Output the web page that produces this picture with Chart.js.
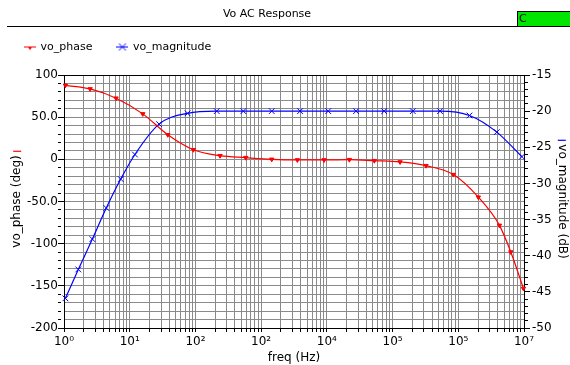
<!DOCTYPE html>
<html>
<head>
<meta charset="utf-8">
<script src="https://cdn.jsdelivr.net/npm/chart.js@4"></script>
<style>
  html, body { margin: 0; padding: 0; background: #fff; }
</style>
</head>
<body>
<canvas id="acChart" width="570" height="365"></canvas>
<script>
// values (markers only, the line is smoothed between them)
var phaseFreq = [1.05, 2.5, 6.2, 15.8, 38, 93, 237, 583, 1450, 3560, 9070, 22000, 52800, 130000, 323000, 842000, 2020000, 4230000, 6300000, 9800000];
var phaseDeg = [87.8, 83.5, 72.5, 53.9, 29.1, 11.4, 4.3, 2.0, 0.0, -0.7, -0.7, -0.4, -1.6, -3.1, -7.5, -18.1, -44.9, -78.3, -109.9, -153.1];
var magFreq = [1.05, 1.65, 2.7, 4.4, 7.3, 12, 28, 76, 211, 536, 1450, 3910, 10500, 27800, 74300, 203000, 528000, 1480000, 3860000, 9300000];
var magDb = [-45.9, -41.9, -37.7, -33.4, -29.4, -26.0, -21.8, -20.3, -20.0, -20.0, -20.0, -20.0, -20.0, -20.0, -20.0, -20.0, -20.0, -20.6, -22.9, -26.3];

// tick labels as printed on the original (including its odd decade labels)
var xTickLabels = ['10⁰', '10¹', '10²', '10²', '10⁴', '10⁵', '10⁵', '10⁷'];
var phaseTicks = [100, 50, 0, -50, -100, -150, -200];
var phaseTickLabels = ['100', '50.0', '0', '-50.0', '-100', '-150', '-200'];
var magTicks = [-15, -20, -25, -30, -35, -40, -45, -50];
var magTickLabels = ['-15', '-20', '-25', '-30', '-35', '-40', '-45', '-50'];

// log grid: 1..9 x 10^e
var xGridValues = [];
for (var e = 0; e < 7; e++) {
  for (var m = 1; m < 10; m++) xGridValues.push(Number((m * Math.pow(10, e)).toPrecision(12)));
}
xGridValues.push(1e7);

var RED = '#ff0000';
var BLUE = '#0000ff';
var GRID = '#8a8a8a';
var FONT = '"DejaVu Sans", sans-serif';

Chart.defaults.font.family = FONT;
Chart.defaults.font.size = 12;
Chart.defaults.color = '#000';

function isDecade(v) {
  var l = Math.log10(v);
  return Math.abs(l - Math.round(l)) < 1e-9;
}

function makeIcon(color, kind) {
  var c = document.createElement('canvas');
  c.width = 12; c.height = 9;
  var g = c.getContext('2d');
  g.strokeStyle = color; g.fillStyle = color; g.lineWidth = 1;
  g.beginPath(); g.moveTo(0, 4.5); g.lineTo(12, 4.5); g.stroke();
  g.beginPath();
  if (kind === 'tri') {
    g.moveTo(3.5, 4); g.lineTo(8.5, 4); g.lineTo(6, 7.5); g.closePath(); g.fill();
  } else {
    g.moveTo(2.5, 1); g.lineTo(9.5, 8); g.moveTo(9.5, 1); g.lineTo(2.5, 8); g.stroke();
  }
  return c;
}
var legendIcons = [makeIcon(RED, 'tri'), makeIcon(BLUE, 'x')];

function xy(xs, ys) {
  return xs.map(function (x, i) { return { x: x, y: ys[i] }; });
}

// window title, rule, green box and the coloured marks by the axis titles
var decor = {
  id: 'decor',
  afterDraw: function (chart) {
    var ctx = chart.ctx;
    var area = chart.chartArea;
    ctx.save();
    ctx.fillStyle = '#000';
    ctx.font = '11px ' + FONT;
    ctx.textAlign = 'center';
    ctx.textBaseline = 'middle';
    ctx.fillText('Vo AC Response', 267, 14);

    ctx.strokeStyle = '#000';
    ctx.lineWidth = 1;
    ctx.beginPath(); ctx.moveTo(7, 26.5); ctx.lineTo(517, 26.5); ctx.stroke();

    ctx.fillStyle = '#00e600';
    ctx.fillRect(517, 11, 53, 16);
    ctx.strokeRect(517.5, 11.5, 60, 15);
    ctx.fillStyle = '#000';
    ctx.textAlign = 'left';
    ctx.fillText('C', 519, 19.5);

    ctx.font = '12px ' + FONT;
    var cy = (area.top + area.bottom) / 2;
    var wl = ctx.measureText('vo_phase (deg)').width;
    var wr = ctx.measureText('vo_magnitude (dB)').width;
    var yl = chart.scales.y, yr = chart.scales.y1;
    var xl = yl.left + 17.2, xr = yr.right - 8.2;
    ctx.lineWidth = 1.2;
    ctx.strokeStyle = RED;
    ctx.beginPath(); ctx.moveTo(xl - 4, cy - wl / 2 - 4); ctx.lineTo(xl + 4, cy - wl / 2 - 4); ctx.stroke();
    ctx.strokeStyle = BLUE;
    ctx.beginPath(); ctx.moveTo(xr - 4, cy - wr / 2 - 4); ctx.lineTo(xr + 4, cy - wr / 2 - 4); ctx.stroke();
    ctx.restore();
  }
};

var ctxAc = document.getElementById('acChart').getContext('2d');
var acChart = new Chart(ctxAc, {
  type: 'line',
  data: {
    datasets: [{
      label: 'vo_phase',
      data: xy(phaseFreq, phaseDeg),
      yAxisID: 'y',
      borderColor: RED,
      backgroundColor: RED,
      borderWidth: 1.2,
      pointStyle: 'triangle',
      rotation: 180,
      pointRadius: 2.5,
      pointBorderWidth: 1,
      cubicInterpolationMode: 'monotone',
      clip: 6
    }, {
      label: 'vo_magnitude',
      data: xy(magFreq, magDb),
      yAxisID: 'y1',
      borderColor: BLUE,
      backgroundColor: BLUE,
      borderWidth: 1.2,
      pointStyle: 'crossRot',
      pointRadius: 4,
      pointBorderWidth: 1,
      cubicInterpolationMode: 'monotone',
      clip: 6
    }]
  },
  options: {
    responsive: false,
    animation: false,
    layout: { padding: { top: 16.5, left: 0, right: 0, bottom: 0 } },
    plugins: {
      title: { display: false },
      subtitle: {
        display: true, text: ' ', weight: 500,
        font: { size: 1, lineHeight: 1 },
        padding: { top: 0, bottom: 11.5 }
      },
      legend: {
        position: 'top',
        align: 'start',
        labels: {
          usePointStyle: true,
          boxWidth: 10,
          padding: 25,
          font: { size: 11 },
          color: '#000',
          generateLabels: function (chart) {
            return chart.data.datasets.map(function (ds, i) {
              return { text: ds.label, pointStyle: legendIcons[i], datasetIndex: i, hidden: false, lineWidth: 0 };
            });
          }
        }
      },
      tooltip: { enabled: false }
    },
    scales: {
      x: {
        type: 'logarithmic',
        min: 1,
        max: 1e7,
        afterFit: function (s) { s.height = 37; },
        afterBuildTicks: function (s) {
          s.ticks = xGridValues.map(function (v) { return { value: v }; });
        },
        ticks: {
          autoSkip: false,
          maxRotation: 0,
          padding: 3,
          callback: function (v) {
            return isDecade(v) ? xTickLabels[Math.round(Math.log10(v))] : '';
          }
        },
        grid: { color: GRID, tickColor: '#000', tickLength: 4 },
        border: { color: '#000' },
        title: { display: true, text: 'freq (Hz)', padding: { top: 0, bottom: 0 } }
      },
      y: {
        type: 'linear',
        position: 'left',
        min: -200,
        max: 100,
        afterFit: function (s) { s.width = 64; },
        ticks: {
          stepSize: 10,
          autoSkip: false,
          padding: 0,
          callback: function (v) {
            var i = phaseTicks.indexOf(Math.round(v));
            return i >= 0 ? phaseTickLabels[i] : '';
          }
        },
        grid: {
          color: function (c) { return c.tick && Math.round(c.tick.value) === 100 ? '#000' : GRID; },
          tickColor: '#000',
          tickLength: 6,
          tickBorderDash: function (c) {
            return c.tick && phaseTicks.indexOf(Math.round(c.tick.value)) >= 0 ? [] : [3, 20];
          }
        },
        border: { color: '#000' },
        title: { display: true, text: 'vo_phase (deg)', padding: { top: 10, bottom: 0 } }
      },
      y1: {
        type: 'linear',
        position: 'right',
        min: -50,
        max: -15,
        afterFit: function (s) { s.width = 46; },
        ticks: {
          stepSize: 1,
          autoSkip: false,
          padding: 2,
          callback: function (v) {
            var i = magTicks.indexOf(Math.round(v));
            return i >= 0 ? magTickLabels[i] : '';
          }
        },
        grid: {
          drawOnChartArea: false,
          tickColor: '#000',
          tickLength: 6,
          tickBorderDash: function (c) {
            return c.tick && magTicks.indexOf(Math.round(c.tick.value)) >= 0 ? [] : [3, 20];
          }
        },
        border: { color: '#000' },
        title: { display: true, text: 'vo_magnitude (dB)', padding: { top: 1, bottom: 0 } }
      }
    }
  },
  plugins: [decor]
});
</script>
</body>
</html>
